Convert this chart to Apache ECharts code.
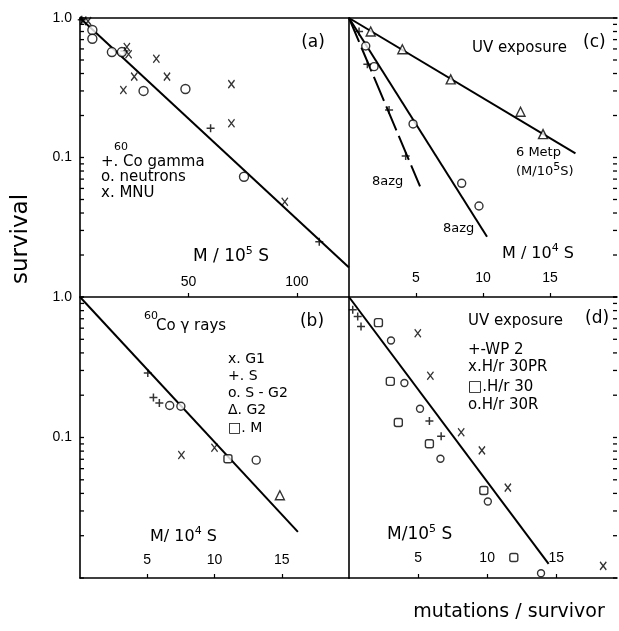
<!DOCTYPE html>
<html><head><meta charset="utf-8">
<script src="https://cdn.jsdelivr.net/npm/echarts@6/dist/echarts.min.js"></script>
<style>html,body{margin:0;padding:0;background:#fff}#c{width:619px;height:631px}</style>
</head><body><div id="c"></div>
<script>
// ---------- DATA ----------
// Panel (a): survival vs mutations (M/10^5 S)
const aCoGamma = [[0.8,0.97],[20.5,0.58],[60.2,0.162],[110.3,0.0249]];
const aNeutrons = [[5.7,0.82],[5.7,0.71],[14.7,0.57],[19.3,0.57],[29.3,0.30],[48.6,0.31],[75.6,0.0728]];
const aMNU = [[1.5,0.96],[3.7,0.95],[21.6,0.62],[22.4,0.55],[35.2,0.51],[25,0.38],[40.1,0.38],[20,0.305],[69.8,0.336],[69.8,0.176],[94.4,0.0482]];
const aFit = [[0,1.0],[124,0.0163]];
// Panel (b): 60Co gamma rays (M/10^4 S)
const bG1 = [[7.54,0.075],[10.0,0.0845]];
const bS = [[5.04,0.288],[5.46,0.193],[5.9,0.176]];
const bSG2 = [[6.67,0.169],[7.5,0.167],[13.1,0.069]];
const bG2 = [[14.86,0.0388]];
const bM = [[11.0,0.0706]];
const bFit = [[0,1.0],[16.2,0.0213]];
// Panel (c): UV exposure
const cMetp = [[1.62,0.80],[3.98,0.597],[7.59,0.363],[12.8,0.213],[14.48,0.147]];
const cMetpFit = [[0,1.0],[16.9,0.107]];
const cAzgO = [[1.25,0.63],[1.87,0.448],[4.78,0.174],[8.41,0.0653],[9.70,0.0449]];
const cAzgOFit = [[0,1.0],[10.3,0.027]];
const cAzgP = [[0.75,0.80],[1.37,0.466],[2.99,0.219],[4.23,0.1025]];
const cAzgPFit = [[0,1.0],[5.3,0.062]];
// Panel (d): UV exposure (M/10^5 S)
const dWP2 = [[0.27,0.81],[0.63,0.725],[0.87,0.616],[5.82,0.131],[6.67,0.102]];
const dH30PR = [[4.98,0.552],[5.89,0.275],[8.12,0.109],[9.62,0.081],[11.5,0.044],[18.4,0.0122]];
const dH30 = [[2.13,0.657],[2.99,0.251],[3.57,0.128],[5.82,0.0902],[9.76,0.042],[11.93,0.014]];
const dH30R = [[3.04,0.49],[4.01,0.244],[5.14,0.16],[6.62,0.0706],[10.05,0.035],[13.9,0.0108]];
const dFit = [[0,1.0],[14.45,0.0126]];
// y tick labels
const yLabelValues = [1, 0.1];
const yLabelTexts = ['1.0', '0.1'];

// ---------- CHART ----------
const TXT = 'DejaVu Sans';
const NUM = 'Liberation Sans';
const BLACK = '#000';
const chart = echarts.init(document.getElementById('c'), null, {renderer:'canvas'});

// log-decade tick positions (1..9 x 10^d) for the inner tick marks
const logTicks = [];
for (let d = -2; d < 0; d++) for (let k = 1; k < 10; k++) logTicks.push([0, k * Math.pow(10, d)]);
logTicks.push([0, 1]);

const grids = [
  {left:80, top:18, width:269, height:279},
  {left:80, top:297, width:269, height:281},
  {left:349, top:18, width:268, height:279},
  {left:349, top:297, width:268, height:281}
];

function xAx(g, max, interval, margin) {
  return {type:'value', gridIndex:g, min:0, max:max, interval:interval, position:'bottom',
    axisLine:{show:true, onZero:false, lineStyle:{color:BLACK, width:1.6}},
    axisTick:{show:true, inside:true, length:4, lineStyle:{color:BLACK, width:1.2}},
    axisLabel:{inside:true, margin:margin, showMinLabel:false, showMaxLabel:false, color:BLACK, fontFamily:NUM, fontSize:14},
    splitLine:{show:false}};
}
function xTop(g) {
  return {type:'value', gridIndex:g, min:0, max:1, position:'top',
    axisLine:{show:true, onZero:false, lineStyle:{color:BLACK, width:1.6}},
    axisTick:{show:false}, axisLabel:{show:false}, splitLine:{show:false}};
}
function yLog(g, labels) {
  return {type:'log', logBase:10, gridIndex:g, min:0.01, max:1, position:'left',
    axisLine:{show:true, onZero:false, lineStyle:{color:BLACK, width:1.6}},
    axisTick:{show:false}, splitLine:{show:false}, minorTick:{show:false}, minorSplitLine:{show:false},
    axisLabel:{show:labels, margin:8, color:BLACK, fontFamily:NUM, fontSize:14,
      formatter: function (v) {
        for (let i = 0; i < yLabelValues.length; i++) if (Math.abs(v - yLabelValues[i]) < 1e-9) return yLabelTexts[i];
        return '';
      }}};
}

// inner tick marks on a vertical edge of a grid, placed through the log y axis
function tickSeries(g, side) {
  return {type:'custom', xAxisIndex:g, yAxisIndex:g, data:logTicks, silent:true, z:4, animation:false,
    clip:false,
    renderItem: function (params, api) {
      const y = api.coord([0, api.value(1)])[1];
      const cs = params.coordSys;
      const x = side === 'left' ? cs.x : cs.x + cs.width;
      const dx = side === 'left' ? 4 : -4;
      return {type:'line', shape:{x1:x, y1:y, x2:x + dx, y2:y}, style:{stroke:BLACK, lineWidth:1.3}};
    }};
}

const PLUS = 'path://M0,4.5L9,4.5M4.5,0L4.5,9';
const CROSS = 'path://M0,0L7,9M7,0L0,9';
function pts(xi, yi, data, kind, size) {
  const s = {type:'scatter', xAxisIndex:xi, yAxisIndex:yi, data:data, symbolSize:size, z:5, silent:true, animation:false};
  if (kind === 'plus') { s.symbol = PLUS; s.itemStyle = {color:'rgba(0,0,0,0)', borderColor:BLACK, borderWidth:1.5}; }
  else if (kind === 'cross') { s.symbol = CROSS; s.symbolSize = [size*0.78, size]; s.itemStyle = {color:'rgba(0,0,0,0)', borderColor:BLACK, borderWidth:1.4}; }
  else { s.symbol = kind; s.itemStyle = {color:'#fff', borderColor:BLACK, borderWidth:1.4}; }
  return s;
}
function fit(xi, yi, data, dashed) {
  return {type:'line', xAxisIndex:xi, yAxisIndex:yi, data:data, symbol:'none', silent:true, z:3, animation:false,
    lineStyle:{color:BLACK, width:2, type: dashed ? [26,6] : 'solid'}};
}

function T(x, y, text, size, extra) {
  const st = Object.assign({text:text, x:0, y:0, fill:BLACK, font: size + 'px "' + TXT + '"',
    textAlign:'left', textVerticalAlign:'middle'}, extra || {});
  return {type:'text', x:x, y:y, silent:true, z:10, style:st};
}
function supRich(size) {
  return {s:{fontSize:size, fontFamily:TXT, lineHeight:size, verticalAlign:'top', fill:BLACK}};
}

const graphics = [
  // global axis names
  {type:'text', x:21, y:239, rotation:Math.PI/2, silent:true, style:{text:'survival', fill:BLACK, font:'23px "'+TXT+'"', textAlign:'center', textVerticalAlign:'middle'}},
  T(509, 612, 'mutations / survivor', 19, {textAlign:'center'}),
  // panel a
  T(313, 43, '(a)', 17, {textAlign:'center'}),
  T(114, 147, '60', 11),
  T(101, 162, '+. Co gamma', 15),
  T(101, 177, 'o. neutrons', 15),
  T(101, 193, 'x. MNU', 15),
  T(193, 257, 'M / 10{s|5} S', 17, {lineHeight:22, rich:supRich(11)}),
  // panel b
  T(144, 316, '60', 11),
  T(156, 326, 'Co γ rays', 15),
  T(312, 322, '(b)', 17, {textAlign:'center'}),
  T(228, 359, 'x. G1', 14),
  T(228, 376, '+. S', 14),
  T(228, 393, 'o. S - G2', 14),
  T(228, 410, 'Δ. G2', 14),
  T(228, 428, '□. M', 14),
  T(150, 537, 'M/ 10{s|4} S', 16, {lineHeight:22, rich:supRich(11)}),
  // panel c
  T(472, 48, 'UV exposure', 15),
  T(583, 43, '(c)', 17),
  T(516, 153, '6 Metp', 13),
  T(516, 172, '(M/10{s|5}S)', 13, {lineHeight:20, rich:supRich(11)}),
  T(372, 182, '8azg', 13),
  T(443, 229, '8azg', 13),
  T(502, 254, 'M / 10{s|4} S', 16, {lineHeight:22, rich:supRich(11)}),
  // panel d
  T(468, 321, 'UV exposure', 15),
  T(585, 319, '(d)', 17),
  T(468, 350, '+-WP 2', 15),
  T(468, 367, 'x.H/r 30PR', 15),
  T(468, 387, '□.H/r 30', 15),
  T(468, 405, 'o.H/r 30R', 15),
  T(387, 535, 'M/10{s|5} S', 17, {lineHeight:22, rich:supRich(11)})
];

const option = {
  animation:false,
  backgroundColor:'#fff',
  grid: grids,
  xAxis: [
    xAx(0, 124, 50, 8), xAx(1, 20, 5, 11), xAx(2, 20, 5, 12), xAx(3, 19.4, 5, 13),
    xTop(0), xTop(2)
  ],
  yAxis: [
    yLog(0, true), yLog(1, true), yLog(2, false), yLog(3, false)
  ],
  series: [
    tickSeries(0, 'left'), tickSeries(1, 'left'), tickSeries(2, 'right'), tickSeries(3, 'right'),
    fit(0, 0, aFit),
    pts(0, 0, aCoGamma, 'plus', 8),
    pts(0, 0, aNeutrons, 'circle', 9),
    pts(0, 0, aMNU, 'cross', 8),
    fit(1, 1, bFit),
    pts(1, 1, bG1, 'cross', 8),
    pts(1, 1, bS, 'plus', 8),
    pts(1, 1, bSG2, 'circle', 8),
    pts(1, 1, bG2, 'triangle', 9),
    pts(1, 1, bM, 'roundRect', 8),
    fit(2, 2, cMetpFit),
    fit(2, 2, cAzgOFit),
    fit(2, 2, cAzgPFit, true),
    pts(2, 2, cMetp, 'triangle', 9),
    pts(2, 2, cAzgO, 'circle', 8),
    pts(2, 2, cAzgP, 'plus', 8),
    fit(3, 3, dFit),
    pts(3, 3, dWP2, 'plus', 8),
    pts(3, 3, dH30PR, 'cross', 8),
    pts(3, 3, dH30, 'roundRect', 8),
    pts(3, 3, dH30R, 'circle', 7)
  ],
  graphic: graphics
};
chart.setOption(option);
</script>
</body></html>
